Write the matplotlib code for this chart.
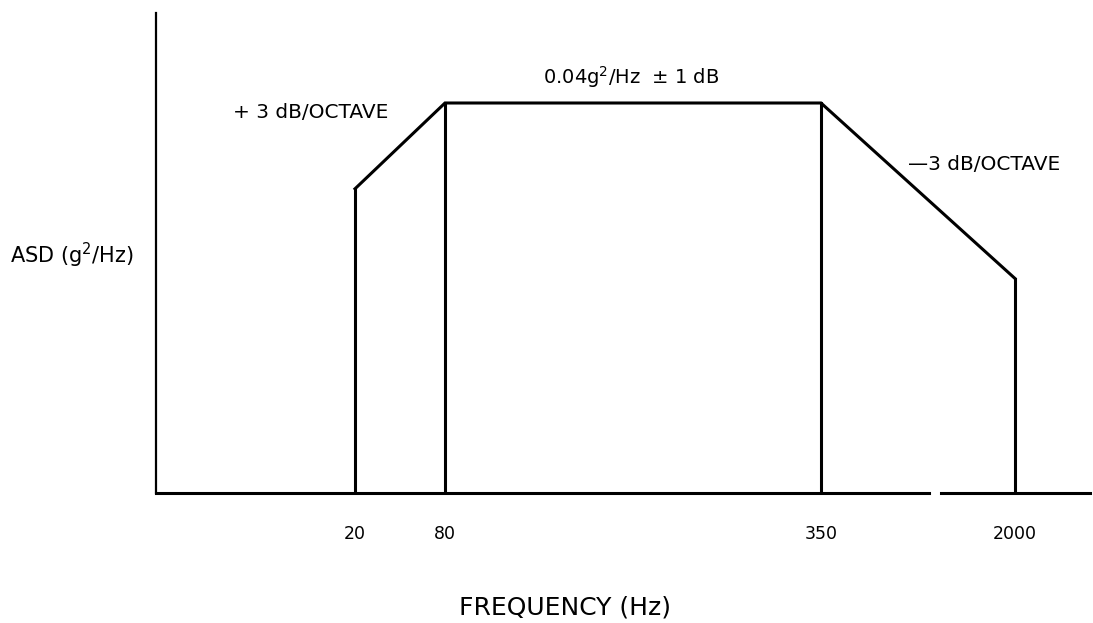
import matplotlib.pyplot as plt

plt.rcParams['font.family'] = ['DejaVu Sans']

# schematic ASD test profile (relative levels, flat = 1.0)
freqs = [20, 80, 350, 2000]
freq_labels = ['20', '80', '350', '2000']
levels = [0.78, 1.0, 1.0, 0.55]

# schematic (not to scale) x positions of the break frequencies
xpos = [199, 289, 665, 859]

fig = plt.figure(figsize=(10.93, 6.23), dpi=100)
ax = fig.add_axes([156 / 1093, 1 - 493 / 623, 934 / 1093, 480 / 623])
ax.set_xlim(0, 934)
ax.set_ylim(0, 480 / 390)

# profile outline
ax.plot(xpos, levels, color='black', lw=2.2, solid_joinstyle='miter')
for x, lv in zip(xpos, levels):
    ax.plot([x, x], [0, lv], color='black', lw=2.2)

# axes lines (baseline has a small gap, like the original drawing)
for s in ['top', 'right', 'bottom']:
    ax.spines[s].set_visible(False)
ax.spines['left'].set_linewidth(1.6)
gap0, gap1 = (929 - 156) / 934, (941 - 156) / 934
ax.axhline(0, xmin=0, xmax=gap0, color='black', lw=2.2, clip_on=False)
ax.axhline(0, xmin=gap1, xmax=1, color='black', lw=2.2, clip_on=False)

ax.set_yticks([])
ax.set_xticks(xpos, freq_labels)
ax.tick_params(axis='x', length=0, pad=23, labelsize=12.5)

fig.text(233 / 1093, 1 - 113 / 623, '+ 3 dB/OCTAVE', fontsize=14.5, va='center')
fig.text(543 / 1093, 1 - 77 / 623, '0.04g$^2$/Hz  $\\pm$ 1 dB', fontsize=14, va='center')
fig.text(908 / 1093, 1 - 165 / 623, '\u20143 dB/OCTAVE', fontsize=14.5, va='center')
fig.text(10 / 1093, 1 - 255 / 623, 'ASD (g$^2$/Hz)', fontsize=15, va='center')
fig.text(565 / 1093, 1 - 607 / 623, 'FREQUENCY (Hz)', fontsize=18, ha='center', va='center')

plt.savefig('out.png', dpi=100)
